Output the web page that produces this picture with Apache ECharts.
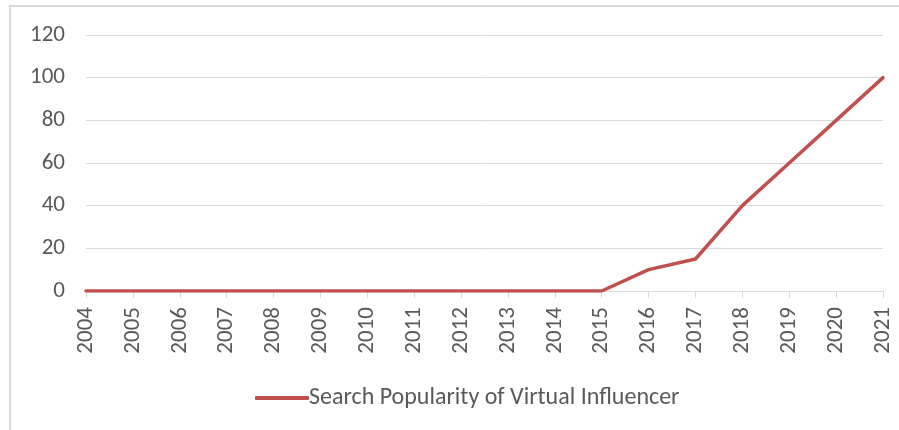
<!DOCTYPE html>
<html><head><meta charset="utf-8">
<script src="https://cdn.jsdelivr.net/npm/echarts@6/dist/echarts.min.js"></script>
<style>html,body{margin:0;padding:0;background:#fff}#c{width:899px;height:430px}</style>
</head><body><div id="c"></div>
<script>
const years = ['2004','2005','2006','2007','2008','2009','2010','2011','2012','2013','2014','2015','2016','2017','2018','2019','2020','2021'];
const popularity = [0,0,0,0,0,0,0,0,0,0,0,0,10,15,40,60,80,100];
const seriesName = 'Search Popularity of Virtual Influencer';
const yTicks = {min:0, max:120, interval:20};

const chart = echarts.init(document.getElementById('c'), null, {renderer:'canvas'});
const font = 'Carlito, "Open Sans", "Liberation Sans", sans-serif';
chart.setOption({
  animation:false,
  backgroundColor:'#fff',
  graphic:[{type:'rect', shape:{x:10,y:6,width:900,height:440}, style:{fill:'none', stroke:'#d9d9d9', lineWidth:2}, z:-1}],
  grid:{left:86, right:16, top:35, bottom:139},
  xAxis:{type:'category', data:years, boundaryGap:false,
    axisLine:{lineStyle:{color:'#d9d9d9', width:1}},
    axisTick:{show:true, length:7, alignWithLabel:true, lineStyle:{color:'#d9d9d9'}},
    axisLabel:{rotate:90, color:'#595959', fontSize:23, fontFamily:font, margin:16, interval:0}},
  yAxis:{type:'value', min:yTicks.min, max:yTicks.max, interval:yTicks.interval,
    axisLine:{show:false}, axisTick:{show:false},
    splitLine:{lineStyle:{color:'#d9d9d9', width:1}},
    axisLabel:{color:'#595959', fontSize:23, fontFamily:font, margin:21}},
  legend:{show:true, top:381, left:250, itemWidth:54, itemHeight:4, itemGap:10,
    icon:'roundRect',
    textStyle:{color:'#595959', fontSize:24, fontFamily:font, padding:[0,0,0,-5]},
    data:[{name:seriesName}]},
  series:[{name:seriesName, type:'line', data:popularity, symbol:'none',
    lineStyle:{color:'#c0504d', width:3.5, cap:'round', join:'round'}, itemStyle:{color:'#c0504d'}}]
});
</script></body></html>
